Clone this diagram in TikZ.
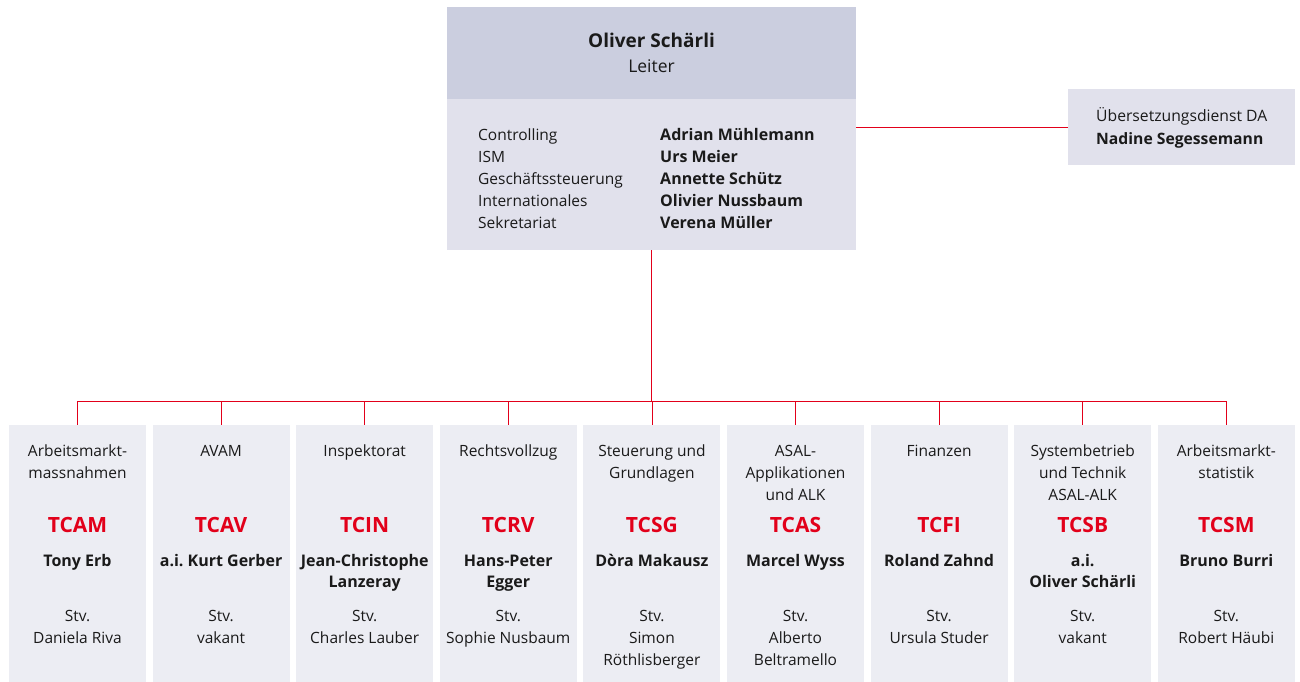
\documentclass[tikz,border=0pt]{standalone}
\usepackage{fontspec}
\setmainfont{Open Sans}
\frenchspacing
\definecolor{hdr}{RGB}{203,206,223}
\definecolor{bodyc}{RGB}{225,225,236}
\definecolor{colc}{RGB}{236,237,243}
\definecolor{sred}{RGB}{226,0,26}
\definecolor{txt}{RGB}{26,26,26}
\begin{document}
\begin{tikzpicture}[x=1pt,y=-1pt,
  box/.style={draw=none,inner sep=0,outer sep=0},
  conn/.style={draw=sred,line width=0.8pt},
  reg/.style={font=\fontsize{15.5}{21.7}\selectfont,text=txt,align=center,inner sep=0,anchor=north},
  nm/.style={reg,font=\fontsize{16}{21.7}\selectfont\bfseries},
  codet/.style={reg,anchor=base,font=\fontsize{21}{24}\selectfont\bfseries,text=sred},
]
\useasboundingbox (0,0) rectangle (1300,681);
% top box
\node[box,fill=bodyc,minimum width=409pt,minimum height=243pt] (top) at (651.5,128.5) {};
\node[box,fill=hdr,minimum width=409pt,minimum height=92pt,anchor=north] (hdr) at (top.north) {};
\node[nm,anchor=base,font=\fontsize{19}{22}\selectfont\bfseries] (boss) at (651.5,47) {Oliver Schärli};
\node[reg,anchor=base,font=\fontsize{17.5}{22}\selectfont] (lt) at (651.5,72) {Leiter};
\node[reg,anchor=north west,align=left,font=\fontsize{15.5}{22}\selectfont] (fn) at (478,124.6)
  {\strut Controlling\\ISM\\Geschäftssteuerung\\Internationales\\Sekretariat};
\node[nm,anchor=north west,align=left,font=\fontsize{16}{22}\selectfont\bfseries] (pn) at (660,124.6)
  {\strut Adrian Mühlemann\\Urs Meier\\Annette Schütz\\Olivier Nussbaum\\Verena Müller};
% side box
\node[box,fill=bodyc,minimum width=227pt,minimum height=76pt] (side) at (1181.5,127) {};
\node[reg,anchor=north west,align=left,font=\fontsize{15.7}{23}\selectfont] (sidet) at (1096,105.6)
  {\strut Übersetzungsdienst DA\\\textbf{Nadine Segessemann}};
\draw[conn] (side.west -| top.east) -- (side.west);
% columns
\coordinate (bus) at (651.5,401);
\foreach \i/\dept/\cd/\name/\stv in {
  0/{Arbeitsmarkt-\\massnahmen}/TCAM/{Tony Erb}/{Stv.\\Daniela Riva},
  1/{AVAM}/TCAV/{a.i. Kurt Gerber}/{Stv.\\vakant},
  2/{Inspektorat}/TCIN/{Jean-Christophe\\Lanzeray}/{Stv.\\Charles Lauber},
  3/{Rechtsvollzug}/TCRV/{Hans-Peter\\Egger}/{Stv.\\Sophie Nusbaum},
  4/{Steuerung und\\Grundlagen}/TCSG/{Dòra Makausz}/{Stv.\\Simon\\Röthlisberger},
  5/{ASAL-\\Applikationen\\und ALK}/TCAS/{Marcel Wyss}/{Stv.\\Alberto\\Beltramello},
  6/{Finanzen}/TCFI/{Roland Zahnd}/{Stv.\\Ursula Studer},
  7/{Systembetrieb\\und Technik\\ASAL-ALK}/TCSB/{a.i.\\Oliver Schärli}/{Stv.\\vakant},
  8/{Arbeitsmarkt-\\statistik}/TCSM/{Bruno Burri}/{Stv.\\Robert Häubi}}{
  \pgfmathsetmacro\cx{77.5+143.6*\i}
  \node[box,fill=colc,minimum width=137pt,minimum height=257pt] (c\i) at (\cx,553) {};
  \node[reg] (d\i) at (\cx,441.5) {\strut\dept};
  \node[codet] (k\i) at (\cx,532.7) {\cd};
  \node[nm] (n\i) at (\cx,550.8) {\strut\name};
  \node[reg] (s\i) at (\cx,606.5) {\strut\stv};
  \draw[conn] (c\i.north) -- (c\i.north |- bus);
}
\draw[conn] (top.south) -- (top.south |- bus);
\draw[conn] (c0.north |- bus) -- (c8.north |- bus);
\end{tikzpicture}
\end{document}
